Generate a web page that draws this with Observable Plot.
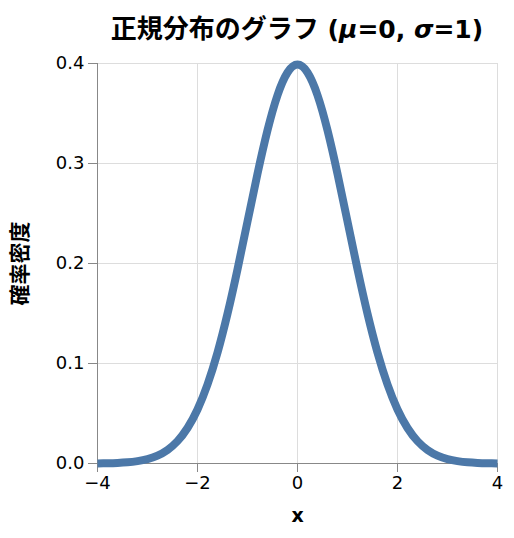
<!DOCTYPE html>
<html>
<head>
<meta charset="utf-8">
<script src="https://cdn.jsdelivr.net/npm/d3@7"></script>
<script src="https://cdn.jsdelivr.net/npm/@observablehq/plot@0.6"></script>
<style>
  html, body { margin: 0; padding: 0; background: #fff; }
  #wrap { position: relative; width: 514px; height: 538px; font-family: "DejaVu Sans", "Noto Sans CJK JP", sans-serif; }
  #title { position: absolute; left: 47px; top: 12px; width: 500px; text-align: center; font-size: 25px; line-height: 29px; font-weight: bold; color: #000; white-space: nowrap; }
  #title .cjk { font-family: "Noto Sans CJK JP", sans-serif; font-size: 26px; }
  #chart { position: absolute; left: 0; top: 0; }
  g[aria-label="x-axis label"] text { font-weight: bold; font-size: 19px; }
  g[aria-label="y-axis label"] text { font-weight: bold; font-size: 21px; font-family: "Noto Sans CJK JP", sans-serif; }
</style>
</head>
<body>
<div id="wrap">
  <div id="chart"></div>
  <div id="title"><span class="cjk">正規分布のグラフ</span> (<i>μ</i>=0, <i>σ</i>=1)</div>
</div>
<script>
// values
const xs = [-4.0,-3.8,-3.6,-3.4,-3.2,-3.0,-2.8,-2.6,-2.4,-2.2,-2.0,-1.8,-1.6,-1.4,-1.2,-1.0,-0.8,-0.6,-0.4,-0.2,0.0,
            0.2,0.4,0.6,0.8,1.0,1.2,1.4,1.6,1.8,2.0,2.2,2.4,2.6,2.8,3.0,3.2,3.4,3.6,3.8,4.0];
const density = [0.0001,0.0003,0.0006,0.0012,0.0024,0.0044,0.0079,0.0136,0.0224,0.0355,0.0540,0.0790,0.1109,0.1497,0.1942,0.2420,0.2897,0.3332,0.3683,0.3910,0.3989,
                 0.3910,0.3683,0.3332,0.2897,0.2420,0.1942,0.1497,0.1109,0.0790,0.0540,0.0355,0.0224,0.0136,0.0079,0.0044,0.0024,0.0012,0.0006,0.0003,0.0001];
const xTicks = [-4, -2, 0, 2, 4];
const yTicks = [0, 0.1, 0.2, 0.3, 0.4];
const xTitle = "x";
const yTitle = "確率密度";

const data = xs.map((x, i) => ({x, y: density[i]}));

const chart = Plot.plot({
  width: 514,
  height: 538,
  marginLeft: 97,
  marginRight: 17,
  marginTop: 63,
  marginBottom: 75,
  style: {fontSize: "18px", fontFamily: '"DejaVu Sans", "Noto Sans CJK JP", sans-serif', color: "#000", background: "#fff"},
  x: {domain: [-4, 4]},
  y: {domain: [0, 0.4]},
  marks: [
    Plot.gridX(xTicks, {stroke: "#ddd", strokeOpacity: 1}),
    Plot.gridY(yTicks, {stroke: "#ddd", strokeOpacity: 1}),
    Plot.axisX(xTicks, {stroke: "#888", tickSize: 9, tickPadding: 4, label: xTitle, labelAnchor: "center", labelArrow: "none", labelOffset: 58}),
    Plot.axisY(yTicks, {stroke: "#888", tickSize: 9, tickPadding: 4, tickFormat: d3.format(".1f"), label: yTitle, labelAnchor: "center", labelArrow: "none", labelOffset: 85}),
    Plot.ruleX([-4], {stroke: "#888"}),
    Plot.ruleY([0], {stroke: "#888"}),
    Plot.line(data, {x: "x", y: "y", stroke: "#4c78a8", strokeWidth: 8, strokeLinecap: "butt", curve: "natural"})
  ]
});
document.getElementById("chart").appendChild(chart);
</script>
</body>
</html>
